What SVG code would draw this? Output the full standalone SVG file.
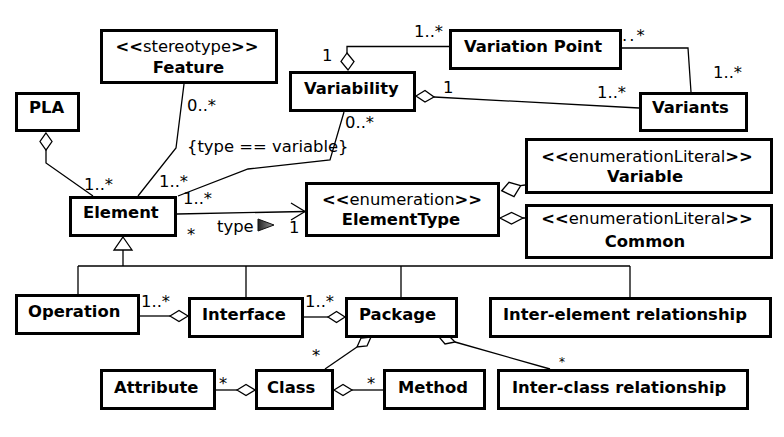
<svg xmlns="http://www.w3.org/2000/svg" width="784" height="437" viewBox="0 0 784 437">
<defs>
<style>
.box{fill:#fff;stroke:#000;stroke-width:3}
.t{font-family:"DejaVu Sans","Liberation Sans",sans-serif;font-size:16.4px;fill:#000}
.b{font-weight:bold}
.ln{fill:none;stroke:#000;stroke-width:1.3}
.dm{fill:#fff;stroke:#000;stroke-width:1.3;stroke-linejoin:miter}
</style>
<linearGradient id="tri" x1="0" y1="0" x2="1" y2="0">
<stop offset="0" stop-color="#222"/>
<stop offset="1" stop-color="#9a9a9a"/>
</linearGradient>
</defs>
<rect width="784" height="437" fill="#fff"/>

<g id="connectors">
<!-- PLA - Element -->
<polyline class="ln" points="46,150 46,163 93,196"/>
<polygon class="dm" points="46,133 52,141.5 46,150 40,141.5"/>
<!-- Feature - Element -->
<polyline class="ln" points="184,84 176,148 138,196"/>
<!-- Variability - Element -->
<polyline class="ln" points="344,112 330,160 248,169 178,196"/>
<!-- Variability - Variation Point -->
<polyline class="ln" points="347,53 347,46.5 449,46.5"/>
<polygon class="dm" points="347,53 354,61.5 348,70 341,61.5"/>
<!-- Variation Point - Variants -->
<polyline class="ln" points="622,48 688,48 691,92"/>
<!-- Variability - Variants -->
<line class="ln" x1="434" y1="97" x2="639" y2="108"/>
<polygon class="dm" points="416,96 425,90.5 434,97 425,102"/>
<!-- Element - ElementType -->
<line class="ln" x1="177" y1="214" x2="305" y2="211.5"/>
<polyline class="ln" points="291,203 305,211.5 291,220"/>
<polygon points="258,219 274,225 258,231" fill="url(#tri)" stroke="#111" stroke-width="1"/>
<!-- ElementType - Variable / Common -->
<line class="ln" x1="520.7" y1="185.7" x2="525" y2="185"/>
<polygon class="dm" points="501.7,190.7 509,182.3 520.7,185.7 514,196.7"/>
<line class="ln" x1="523" y1="218" x2="525" y2="218"/>
<polygon class="dm" points="500,218 511.5,212.5 523,218 511.5,224"/>
<!-- Generalization -->
<polyline class="ln" points="123,250 123,266"/>
<line class="ln" x1="78" y1="266" x2="630" y2="266"/>
<line class="ln" x1="78" y1="266" x2="78" y2="294"/>
<line class="ln" x1="246" y1="266" x2="246" y2="297"/>
<line class="ln" x1="401" y1="266" x2="401" y2="297"/>
<line class="ln" x1="630" y1="266" x2="630" y2="297"/>
<polygon class="dm" points="123,237 132,250 114,250"/>
<!-- Operation - Interface -->
<line class="ln" x1="140" y1="316" x2="170" y2="316"/>
<polygon class="dm" points="170,316 179,310.5 188,316 179,321.5"/>
<!-- Interface - Package -->
<line class="ln" x1="304" y1="317" x2="328" y2="317"/>
<polygon class="dm" points="328,317 336.5,311.5 345,317 336.5,322.5"/>
<!-- Package - Class -->
<line class="ln" x1="325" y1="369" x2="357" y2="347"/>
<polygon class="dm" points="357,347 361,338 371,337 367,346"/>
<!-- Package - Inter-class relationship -->
<line class="ln" x1="550" y1="369" x2="455" y2="342"/>
<polygon class="dm" points="455,342 448,335 439,337 445,344"/>
<!-- Attribute - Class -->
<line class="ln" x1="216" y1="390" x2="237" y2="390"/>
<polygon class="dm" points="237,390 246,384.5 255,390 246,395.5"/>
<!-- Class - Method -->
<line class="ln" x1="352" y1="390" x2="383" y2="390"/>
<polygon class="dm" points="334,390 343,384.5 352,390 343,395.5"/>

<!-- labels -->
<text class="t" x="187" y="111">0..*</text>
<text class="t" x="187" y="152">{type == variable}</text>
<text class="t" x="345" y="128">0..*</text>
<text class="t" x="84" y="190">1..*</text>
<text class="t" x="159" y="187">1..*</text>
<text class="t" x="183" y="204">1..*</text>
<text class="t" x="187" y="240">*</text>
<text class="t" x="217" y="232">type</text>
<text class="t" x="289" y="233">1</text>
<text class="t" x="322" y="61">1</text>
<text class="t" x="414" y="37">1..*</text>
<text class="t" x="622" y="41" letter-spacing="2">..*</text>
<text class="t" x="713" y="78">1..*</text>
<text class="t" x="443" y="93">1</text>
<text class="t" x="597" y="98">1..*</text>
<text class="t" x="141" y="307">1..*</text>
<text class="t" x="305" y="307">1..*</text>
<text class="t" x="312" y="361">*</text>
<text class="t" x="559" y="366" style="font-size:12px">*</text>
<text class="t" x="219" y="389">*</text>
<text class="t" x="367" y="389">*</text>
</g>

<g id="feature"><rect class="box" x="101.5" y="30.5" width="175" height="52"/>
<text class="t" x="187" y="52" text-anchor="middle"><tspan class="b">&lt;&lt;</tspan>stereotype<tspan class="b">&gt;&gt;</tspan></text>
<text class="t b" x="188.5" y="73" text-anchor="middle">Feature</text></g>

<g id="pla"><rect class="box" x="16.5" y="93.5" width="62" height="37"/>
<text class="t b" x="29" y="113">PLA</text></g>

<g id="variability"><rect class="box" x="290.5" y="72.5" width="124" height="38"/>
<text class="t b" x="304" y="94">Variability</text></g>

<g id="variation-point"><rect class="box" x="450.5" y="30.5" width="170" height="38"/>
<text class="t b" x="464" y="52">Variation Point</text></g>

<g id="variants"><rect class="box" x="640.5" y="93.5" width="106" height="37"/>
<text class="t b" x="652" y="113">Variants</text></g>

<g id="element"><rect class="box" x="70.5" y="197.5" width="105" height="38"/>
<text class="t b" x="83" y="218">Element</text></g>

<g id="elementtype"><rect class="box" x="306.5" y="183.5" width="192" height="52"/>
<text class="t" x="402" y="205" text-anchor="middle"><tspan class="b">&lt;&lt;</tspan>enumeration<tspan class="b">&gt;&gt;</tspan></text>
<text class="t b" x="401" y="225" text-anchor="middle">ElementType</text></g>

<g id="variable"><rect class="box" x="526.5" y="139.5" width="245" height="53"/>
<text class="t" x="647" y="162" text-anchor="middle"><tspan class="b">&lt;&lt;</tspan>enumerationLiteral<tspan class="b">&gt;&gt;</tspan></text>
<text class="t b" x="645" y="182" text-anchor="middle">Variable</text></g>

<g id="common"><rect class="box" x="526.5" y="205.5" width="245" height="52"/>
<text class="t" x="647" y="224" text-anchor="middle"><tspan class="b">&lt;&lt;</tspan>enumerationLiteral<tspan class="b">&gt;&gt;</tspan></text>
<text class="t b" x="645" y="247" text-anchor="middle">Common</text></g>

<g id="operation"><rect class="box" x="16.5" y="295.5" width="122" height="38"/>
<text class="t b" x="28" y="317">Operation</text></g>

<g id="interface"><rect class="box" x="189.5" y="298.5" width="113" height="38"/>
<text class="t b" x="202" y="320">Interface</text></g>

<g id="package"><rect class="box" x="346.5" y="298.5" width="110" height="38"/>
<text class="t b" x="359" y="320">Package</text></g>

<g id="inter-element"><rect class="box" x="490.5" y="298.5" width="280" height="38"/>
<text class="t b" x="503" y="320">Inter-element relationship</text></g>

<g id="attribute"><rect class="box" x="101.5" y="370.5" width="113" height="38"/>
<text class="t b" x="114" y="393">Attribute</text></g>

<g id="class"><rect class="box" x="256.5" y="370.5" width="76" height="38"/>
<text class="t b" x="267" y="393">Class</text></g>

<g id="method"><rect class="box" x="384.5" y="370.5" width="100" height="38"/>
<text class="t b" x="398" y="393">Method</text></g>

<g id="inter-class"><rect class="box" x="498.5" y="370.5" width="249" height="38"/>
<text class="t b" x="512" y="393">Inter-class relationship</text></g>
</svg>
